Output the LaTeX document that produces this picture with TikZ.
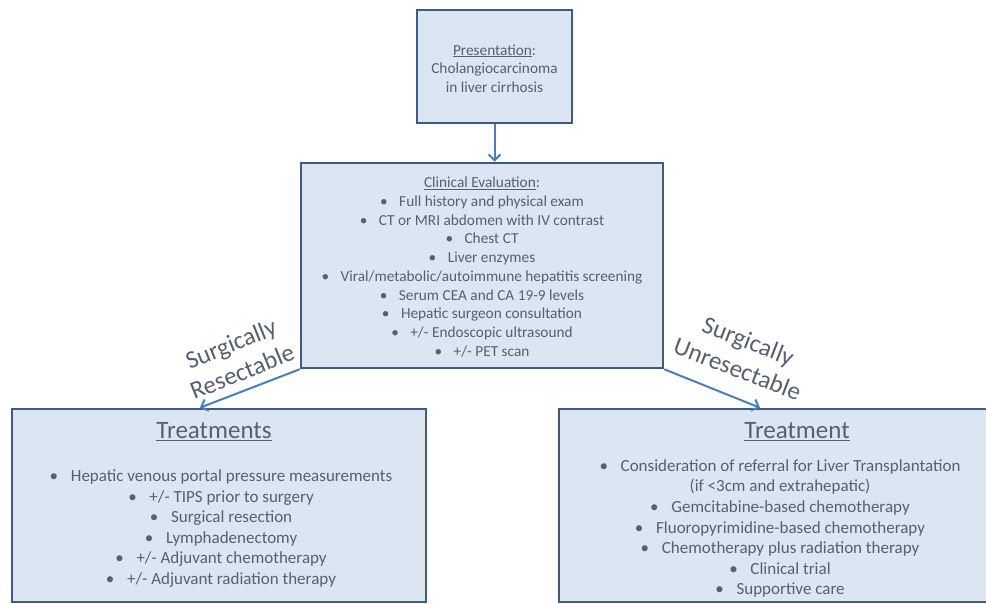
\documentclass[tikz,border=0pt]{standalone}
\usepackage{fontspec}
\setmainfont{Carlito}
\usetikzlibrary{arrows.meta,calc}
\definecolor{boxfill}{HTML}{DCE6F2}
\definecolor{boxline}{HTML}{3E5C82}
\definecolor{txt}{HTML}{56606E}
\definecolor{arr}{HTML}{4A7EBB}
\newcommand{\bitem}[1]{\textbullet\hspace{0.75em}#1}
\begin{document}
\begin{tikzpicture}[x=1pt,y=-1pt,
  box/.style={draw=boxline, line width=2.5pt, fill=boxfill, inner sep=0pt},
  smalltext/.style={text=txt, align=center, inner sep=0pt, font=\fontsize{15.3}{18.7}\selectfont},
  listtext/.style={text=txt, align=center, inner sep=0pt, font=\fontsize{17}{20.6}\selectfont},
  headtext/.style={text=txt, align=center, inner sep=0pt, font=\fontsize{25}{30}\selectfont},
  lbl/.style={text=txt, align=center, inner sep=0pt, font=\fontsize{25}{30}\selectfont},
  conn/.style={draw=arr, line width=2pt, -{Straight Barb[length=6pt,width=12pt]}}]
\useasboundingbox[fill=white] (0,0) rectangle (986,603);
% boxes
\node[box, minimum width=155pt, minimum height=113pt] (pres) at (494.5,66.5) {};
\node[box, minimum width=362pt, minimum height=205pt] (eval) at (482,265.5) {};
\node[box, minimum width=414pt, minimum height=193pt] (res) at (219,505.5) {};
\node[box, minimum width=440pt, minimum height=193pt] (unres) at (779,505.5) {};
% texts
\node[smalltext] (prestxt) at (494.5,68.5) {\underline{Presentation}:\\Cholangiocarcinoma\\in liver cirrhosis};
\node[smalltext] (evaltxt) at (482,267) {\underline{Clinical Evaluation}:\\
\bitem{Full history and physical exam}\\
\bitem{CT or MRI abdomen with IV contrast}\\
\bitem{Chest CT}\\
\bitem{Liver enzymes}\\
\bitem{Viral/metabolic/autoimmune hepatitis screening}\\
\bitem{Serum CEA and CA 19-9 levels}\\
\bitem{Hepatic surgeon consultation}\\
\bitem{+/- Endoscopic ultrasound}\\
\bitem{+/- PET scan}};
\node[headtext] (reshead) at (214,432) {\underline{Treatments}};
\node[listtext] (restxt) at (221,528.5) {\bitem{Hepatic venous portal pressure measurements}\\
\bitem{+/- TIPS prior to surgery}\\
\bitem{Surgical resection}\\
\bitem{Lymphadenectomy}\\
\bitem{+/- Adjuvant chemotherapy}\\
\bitem{+/- Adjuvant radiation therapy}};
\node[headtext] (unreshead) at (797,432) {\underline{Treatment}};
\node[listtext] (unrestxt) at (780,528.5) {\bitem{Consideration of referral for Liver Transplantation}\\
(if <3cm and extrahepatic)\\
\bitem{Gemcitabine-based chemotherapy}\\
\bitem{Fluoropyrimidine-based chemotherapy}\\
\bitem{Chemotherapy plus radiation therapy}\\
\bitem{Clinical trial}\\
\bitem{Supportive care}};
% connectors
\draw[conn] (pres.south) -- (pres.south |- eval.north);
\draw[conn] (eval.south west) -- ($(res.north west)!0.454!(res.north east)$);
\draw[conn] (eval.south east) -- ($(unres.north west)!0.457!(unres.north east)$);
% labels
\node[lbl, rotate=22] (lres) at (236.5,357.5) {Surgically\\Resectable};
\node[lbl, rotate=-21] (lunres) at (743,355) {Surgically\\Unresectable};
\end{tikzpicture}
\end{document}
